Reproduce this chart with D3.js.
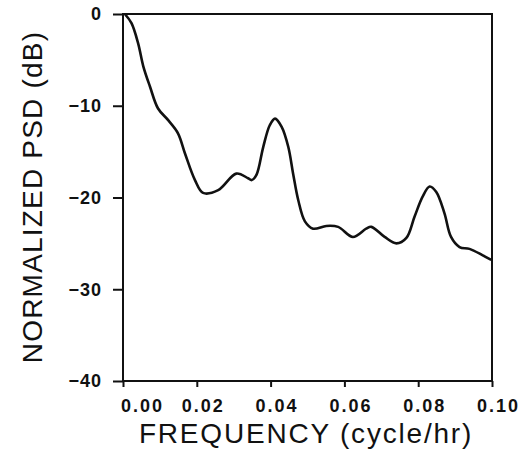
<!DOCTYPE html>
<html>
<head>
<meta charset="utf-8">
<script src="https://cdn.jsdelivr.net/npm/d3@7"></script>
<style>
  body { margin: 0; background: #fff; }
  .tick text { font-family: "Liberation Sans", Arial, sans-serif; font-weight: bold; font-size: 18px; fill: #111; }
  .title { font-family: "Liberation Sans", Arial, sans-serif; font-size: 28px; fill: #111; }
</style>
</head>
<body>
<script>
// spectrum: frequency (cycle/hr) and normalized PSD (dB)
const freq = [0.0005, 0.0023, 0.0041, 0.0055, 0.0073, 0.0095, 0.0123, 0.0149, 0.0168, 0.0195,
              0.0217, 0.0258, 0.0307, 0.0339, 0.0349, 0.0362, 0.0380, 0.0398, 0.0412, 0.0430,
              0.0448, 0.0461, 0.0475, 0.0493, 0.0515, 0.0551, 0.0583, 0.0623, 0.0659, 0.0673,
              0.0709, 0.0741, 0.0768, 0.0790, 0.0812, 0.0831, 0.0849, 0.0871, 0.0889, 0.0912,
              0.0939, 0.0975, 0.0998];
const psd = [0, -1.0, -3.2, -5.7, -7.9, -10.3, -11.6, -13.0, -15.2, -18.1,
             -19.5, -19.2, -17.4, -17.9, -18.1, -17.5, -14.5, -12.1, -11.4, -12.3,
             -14.5, -17.4, -20.3, -22.6, -23.4, -23.1, -23.2, -24.3, -23.4, -23.2,
             -24.3, -25.0, -24.4, -22.1, -19.9, -18.8, -19.4, -21.7, -24.3, -25.4,
             -25.6, -26.3, -26.8];
const xTicks = [0, 0.02, 0.04, 0.06, 0.08, 0.10];
const yTicks = [0, -10, -20, -30, -40];

const WIDTH = 520, HEIGHT = 453;
const MARGIN = {top: 14, right: 28, bottom: 72, left: 123};

const svg = d3.select('body').append('svg')
  .attr('width', WIDTH)
  .attr('height', HEIGHT);

const x = d3.scaleLinear().domain([0, 0.1]).range([MARGIN.left, WIDTH - MARGIN.right]);
const y = d3.scaleLinear().domain([-40, 0]).range([HEIGHT - MARGIN.bottom, MARGIN.top]);

// axes
const xAxis = svg.append('g')
  .attr('transform', 'translate(0,' + y(-40) + ')')
  .call(d3.axisBottom(x).tickValues(xTicks).tickFormat(d3.format('.2f')).tickSize(6).tickPadding(12));
xAxis.select('.domain').remove();
xAxis.selectAll('.tick line').attr('stroke', '#111').attr('stroke-width', 2);
xAxis.selectAll('.tick text')
  .attr('letter-spacing', 2)
  .attr('dx', (d, i) => i === 0 ? 19 : 6);

const yAxis = svg.append('g')
  .attr('transform', 'translate(' + x(0) + ',0)')
  .call(d3.axisLeft(y).tickValues(yTicks).tickFormat(d3.format('d')).tickSize(10).tickPadding(11));
yAxis.select('.domain').remove();
yAxis.selectAll('.tick line').attr('stroke', '#111').attr('stroke-width', 2);
yAxis.selectAll('.tick text').attr('letter-spacing', 1);

// frame
svg.append('rect')
  .attr('x', x(0))
  .attr('y', y(0))
  .attr('width', x(0.1) - x(0))
  .attr('height', y(-40) - y(0))
  .attr('fill', 'none')
  .attr('stroke', '#111')
  .attr('stroke-width', 2);

// curve
const line = d3.line()
  .x(d => x(d[0]))
  .y(d => y(d[1]))
  .curve(d3.curveCatmullRom.alpha(0.5));

svg.append('path')
  .datum(d3.zip(freq, psd))
  .attr('d', line)
  .attr('fill', 'none')
  .attr('stroke', '#111')
  .attr('stroke-width', 2.6)
  .attr('stroke-linejoin', 'round');

// titles
svg.append('text')
  .attr('class', 'title')
  .attr('x', 306)
  .attr('y', 443)
  .attr('text-anchor', 'middle')
  .attr('letter-spacing', 1.8)
  .text('FREQUENCY (cycle/hr)');

svg.append('text')
  .attr('class', 'title')
  .attr('transform', 'translate(42,197) rotate(-90)')
  .attr('text-anchor', 'middle')
  .attr('letter-spacing', 1.2)
  .text('NORMALIZED PSD (dB)');
</script>
</body>
</html>
